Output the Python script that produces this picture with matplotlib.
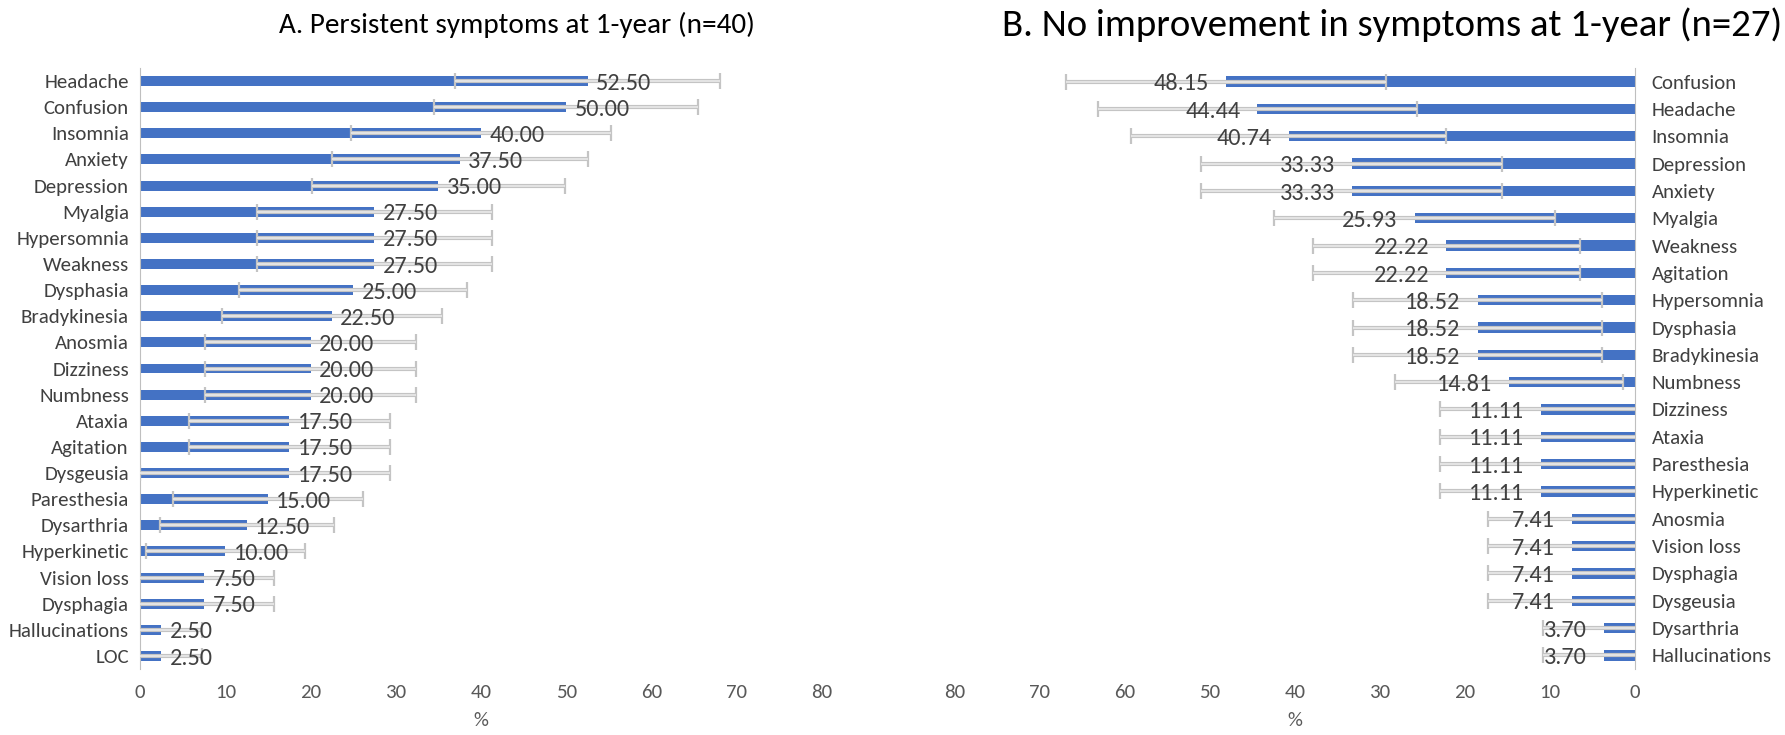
import matplotlib.pyplot as plt

# panel A: persistent symptoms (n=40)
a_labels = ['Headache', 'Confusion', 'Insomnia', 'Anxiety', 'Depression', 'Myalgia',
            'Hypersomnia', 'Weakness', 'Dysphasia', 'Bradykinesia', 'Anosmia', 'Dizziness',
            'Numbness', 'Ataxia', 'Agitation', 'Dysgeusia', 'Paresthesia', 'Dysarthria',
            'Hyperkinetic', 'Vision loss', 'Dysphagia', 'Hallucinations', 'LOC']
a_values = [52.5, 50.0, 40.0, 37.5, 35.0, 27.5, 27.5, 27.5, 25.0, 22.5, 20.0, 20.0,
            20.0, 17.5, 17.5, 17.5, 15.0, 12.5, 10.0, 7.5, 7.5, 2.5, 2.5]
a_low = [37.0, 34.5, 24.8, 22.5, 20.2, 13.7, 13.7, 13.7, 11.6, 9.6, 7.6, 7.6,
         7.6, 5.7, 5.7, 0.0, 3.9, 2.3, 0.7, -0.7, -0.7, -2.3, -2.3]
a_high = [68.0, 65.5, 55.2, 52.5, 49.8, 41.3, 41.3, 41.3, 38.4, 35.4, 32.4, 32.4,
          32.4, 29.3, 29.3, 29.3, 26.1, 22.8, 19.3, 15.7, 15.7, 7.3, 7.3]

# panel B: no improvement (n=27)
b_labels = ['Confusion', 'Headache', 'Insomnia', 'Depression', 'Anxiety', 'Myalgia',
            'Weakness', 'Agitation', 'Hypersomnia', 'Dysphasia', 'Bradykinesia', 'Numbness',
            'Dizziness', 'Ataxia', 'Paresthesia', 'Hyperkinetic', 'Anosmia', 'Vision loss',
            'Dysphagia', 'Dysgeusia', 'Dysarthria', 'Hallucinations']
b_values = [48.15, 44.44, 40.74, 33.33, 33.33, 25.93, 22.22, 22.22, 18.52, 18.52, 18.52,
            14.81, 11.11, 11.11, 11.11, 11.11, 7.41, 7.41, 7.41, 7.41, 3.70, 3.70]
b_low = [29.3, 25.7, 22.2, 15.6, 15.6, 9.4, 6.5, 6.5, 3.9, 3.9, 3.9,
         1.4, -0.7, -0.7, -0.7, -0.7, -2.5, -2.5, -2.5, -2.5, -3.4, -3.4]
b_high = [67.0, 63.2, 59.3, 51.1, 51.1, 42.5, 37.9, 37.9, 33.2, 33.2, 33.2,
          28.2, 23.0, 23.0, 23.0, 23.0, 17.3, 17.3, 17.3, 17.3, 10.8, 10.8]

BLUE = '#4472C4'
plt.rcParams['font.family'] = ['Carlito', 'DejaVu Sans']

fig = plt.figure(figsize=(17.85, 7.35), dpi=100)
axA = fig.add_axes([140/1785, 1-669/735, 682/1785, 601/735])
axB = fig.add_axes([955/1785, 1-669/735, 680/1785, 601/735])


def draw(ax, labels, values, low, high, right):
    y = list(range(len(labels)))
    ax.barh(y, values, height=0.38, color=BLUE, zorder=2)
    xerr = [[v - l for v, l in zip(values, low)], [h - v for v, h in zip(values, high)]]
    ax.errorbar(values, y, xerr=xerr, fmt='none', ecolor='#C4C4C4', elinewidth=3,
                capsize=6, capthick=1.6, zorder=3)
    ax.errorbar(values, y, xerr=xerr, fmt='none', ecolor='#EDEDED', elinewidth=1.1,
                capsize=0, zorder=4)
    for yi, v in zip(y, values):
        ax.text(v + (2.0 if right else 1.0), yi + 0.08, f'{v:.2f}',
                ha='right' if right else 'left', va='center',
                fontsize=17.5, color='#404040', zorder=5)
    ax.set_ylim(len(labels) - 0.5, -0.5)
    ax.set_yticks(y)
    ax.set_yticklabels(labels, fontsize=15, color='#404040')
    ax.set_xticks(range(0, 81, 10))
    ax.tick_params(axis='x', length=0, pad=11, labelsize=15, labelcolor='#595959')
    ax.tick_params(axis='y', length=0, pad=8 if not right else 12)
    ax.set_xlabel('%', fontsize=15, color='#595959', labelpad=8)
    for s in ax.spines.values():
        s.set_visible(False)
    if right:
        ax.set_xlim(80, 0)
        ax.yaxis.tick_right()
        ax.spines['right'].set_visible(True)
        ax.spines['right'].set_color('#BFBFBF')
    else:
        ax.set_xlim(0, 80)
        ax.spines['left'].set_visible(True)
        ax.spines['left'].set_color('#BFBFBF')


draw(axA, a_labels, a_values, a_low, a_high, False)
draw(axB, b_labels, b_values, b_low, b_high, True)

fig.text(517/1785, 1-25/735, 'A. Persistent symptoms at 1-year (n=40)', ha='center', va='center',
         fontsize=21, color='#000000')
fig.text(1392/1785, 1-25/735, 'B. No improvement in symptoms at 1-year (n=27)', ha='center',
         va='center', fontsize=28, color='#000000')

fig.savefig('out.png', dpi=100)
